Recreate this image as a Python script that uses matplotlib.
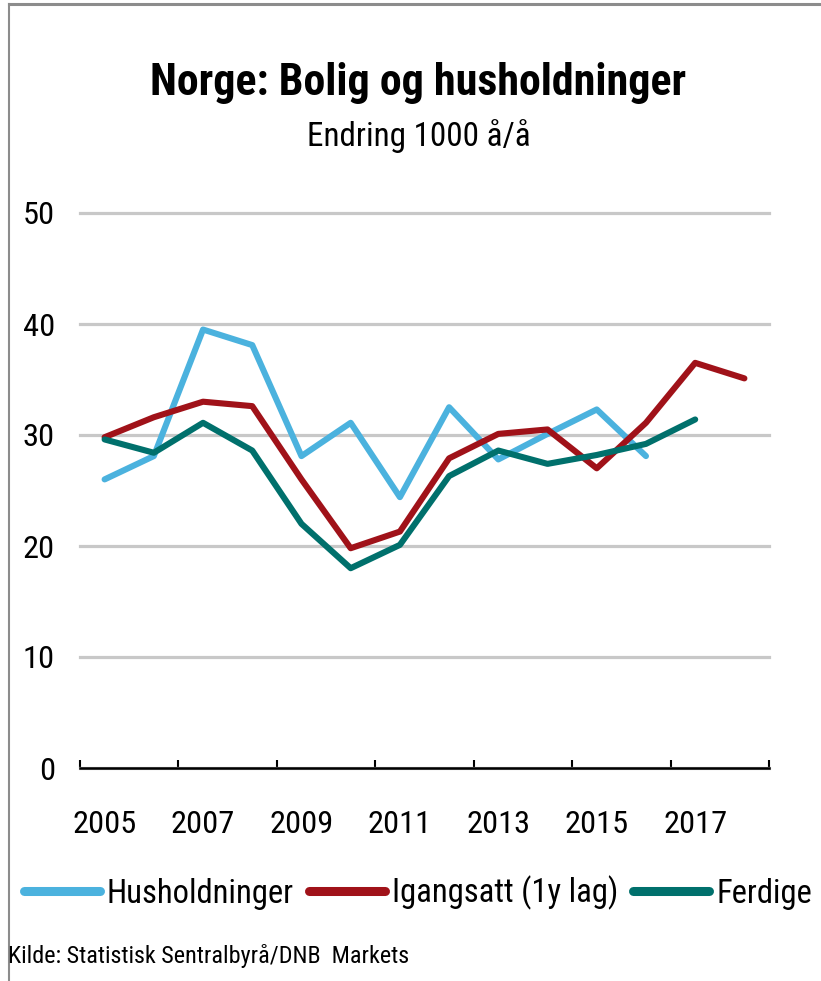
import matplotlib
matplotlib.use('Agg')
import matplotlib.pyplot as plt
from matplotlib import font_manager
from matplotlib.lines import Line2D
import numpy as np

# ---- data ----
years = ['2005', '2006', '2007', '2008', '2009', '2010', '2011',
         '2012', '2013', '2014', '2015', '2016', '2017', '2018']
husholdninger = [26.0, 28.1, 39.5, 38.1, 28.1, 31.1, 24.4, 32.5, 27.8, 30.1, 32.3, 28.1]
igangsatt = [29.8, 31.6, 33.0, 32.6, 26.0, 19.8, 21.3, 27.9, 30.1, 30.5, 27.0, 31.1, 36.5, 35.1]
ferdige = [29.6, 28.4, 31.1, 28.6, 22.0, 18.0, 20.1, 26.3, 28.6, 27.4, 28.2, 29.2, 31.4]
series_names = ['Husholdninger', 'Igangsatt (1y lag)', 'Ferdige']
series_colors = ['#4BB2DE', '#A01219', '#00706C']
yticks = [0, 10, 20, 30, 40, 50]
title = 'Norge: Bolig og husholdninger'
subtitle = 'Endring 1000 å/å'
source = 'Kilde: Statistisk Sentralbyrå/DNB  Markets'

# ---- fonts: prefer a narrow sans like the original ----
names = {f.name for f in font_manager.fontManager.ttflist}
FONT = 'Liberation Sans'
for cand in ['Liberation Sans Narrow', 'Arial Narrow', 'Roboto Condensed']:
    if cand in names:
        FONT = cand
        break
plt.rcParams['font.family'] = [FONT, 'DejaVu Sans']

W, H = 821, 981
fig = plt.figure(figsize=(W / 100, H / 100), dpi=100)
renderer = fig.canvas.get_renderer()


def fx(px):
    return px / W


def fy(py):
    return 1 - py / H


def fit_size(s, target_px, weight='normal', base=20.0):
    t = fig.text(0, 0, s, fontsize=base, fontweight=weight)
    w = t.get_window_extent(renderer).width
    t.remove()
    return base * target_px / w


ax = fig.add_axes([fx(80), fy(768), fx(769) - fx(80), fy(213) - fy(768)])
x = np.arange(len(years))
for vals, name, col in zip([husholdninger, igangsatt, ferdige], series_names, series_colors):
    ax.plot(x[:len(vals)], vals, color=col, lw=4.4, solid_capstyle='round',
            solid_joinstyle='round', label=name, zorder=3)

ax.set_xlim(-0.5, len(years) - 0.5)
ax.set_ylim(0, 50)
ax.set_yticks(yticks)
ax.set_yticklabels([str(v) for v in yticks])
ax.set_xticks(x[::2])
ax.set_xticklabels(years[::2])
ax.set_xticks(np.arange(-0.5, len(years), 2), minor=True)

xs = fit_size('2005', 64)
ys = fit_size('50', 32)
ax.tick_params(axis='x', which='major', length=0, pad=30, labelsize=xs)
ax.tick_params(axis='x', which='minor', direction='in', length=6, width=1.5, color='black')
ax.tick_params(axis='y', which='both', length=0, pad=18, labelsize=ys)

for s in ['top', 'right', 'left']:
    ax.spines[s].set_visible(False)
ax.spines['bottom'].set_linewidth(1.8)
ax.spines['bottom'].set_color('black')

ax.yaxis.grid(True, color='#C8C8C8', lw=2.3)
ax.set_axisbelow(True)
for gl in ax.get_ygridlines():
    gl.set_clip_on(False)

fig.text(fx(418), fy(95), title, ha='center', va='baseline',
         fontsize=fit_size(title, 536, 'bold'), fontweight='bold')
fig.text(fx(418.5), fy(146), subtitle, ha='center', va='baseline',
         fontsize=fit_size(subtitle, 223))

lfs = fit_size(series_names[0], 187)
em = lfs * 100 / 72
leg = fig.legend(loc='center', bbox_to_anchor=(fx(418), fy(893)), ncol=3, frameon=False,
                 fontsize=lfs, handlelength=76 / em, handletextpad=7 / em,
                 columnspacing=15 / em, borderpad=0, borderaxespad=0)
for ln in leg.get_lines():
    ln.set_linewidth(6.5)
    ln.set_solid_capstyle('round')

fig.text(fx(8), fy(963), source, ha='left', va='baseline', fontsize=fit_size(source, 400))

fig.add_artist(Line2D([fx(9), fx(9)], [0, fy(4)], transform=fig.transFigure,
                      color='#8C8C8C', lw=1.5))
fig.add_artist(Line2D([fx(9), 1], [fy(4), fy(4)], transform=fig.transFigure,
                      color='#8C8C8C', lw=2.2))

fig.savefig('out.png', dpi=100)
